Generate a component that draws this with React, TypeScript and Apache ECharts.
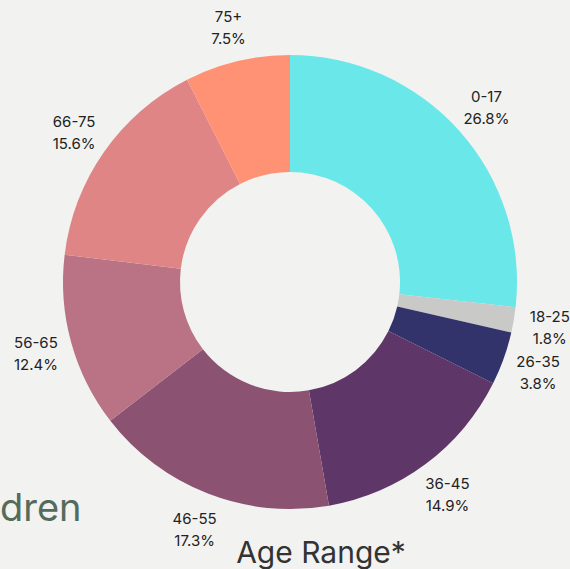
import React, { useEffect, useRef } from "react";
import * as echarts from "echarts";

const categories = ["0-17", "18-25", "26-35", "36-45", "46-55", "56-65", "66-75", "75+"];
const values = [26.8, 1.8, 3.8, 14.9, 17.3, 12.4, 15.6, 7.5];
const colors = ["#6ae7e9", "#c9c9c7", "#31336a", "#5e3667", "#8b5271", "#b97385", "#e08586", "#ff9274"];
const title = "Age Range*";
const sideText = "dren";

export default function App() {
  const ref = useRef<HTMLDivElement>(null);
  useEffect(() => {
    document.body.style.margin = "0";
    const chart = echarts.init(ref.current!, null, { renderer: "svg" });
    const data = categories.map((c, i) => ({ name: c, value: values[i], itemStyle: { color: colors[i] } }));
    const labelData = categories.map((c, i) => ({ name: c, value: values[i] }));
    chart.setOption({
      animation: false,
      backgroundColor: "#f2f2f0",
      series: [
        {
          type: "pie",
          center: [290, 282],
          radius: [110, 227],
          startAngle: 90,
          clockwise: true,
          silent: true,
          label: { show: false },
          labelLine: { show: false },
          data,
        },
        {
          type: "pie",
          center: [290, 283.5],
          radius: [0, 521],
          startAngle: 90,
          clockwise: true,
          silent: true,
          z: 5,
          avoidLabelOverlap: false,
          minShowLabelAngle: 0,
          labelLayout: { hideOverlap: false },
          itemStyle: { color: "rgba(0,0,0,0)" },
          labelLine: { show: false },
          label: {
            show: true,
            position: "inside",
            formatter: (p: any) => `${p.name}\n${p.value}%`,
            fontFamily: "Inter",
            fontSize: 15,
            lineHeight: 22,
            color: "#222222",
            align: "center",
          },
          data: labelData,
        },
      ],
      graphic: [
        {
          type: "text",
          left: 0,
          top: 488,
          style: { text: sideText, fontFamily: "Inter", fontSize: 38, fill: "#546b5c" },
        },
        {
          type: "text",
          x: 321,
          y: 552,
          style: {
            text: title,
            fontFamily: "Inter",
            fontSize: 30,
            fill: "#333333",
            align: "center",
            verticalAlign: "middle",
          },
        },
      ],
    });
    return () => chart.dispose();
  }, []);
  return <div ref={ref} style={{ position: "absolute", left: 0, top: 0, width: 570, height: 569 }} />;
}
